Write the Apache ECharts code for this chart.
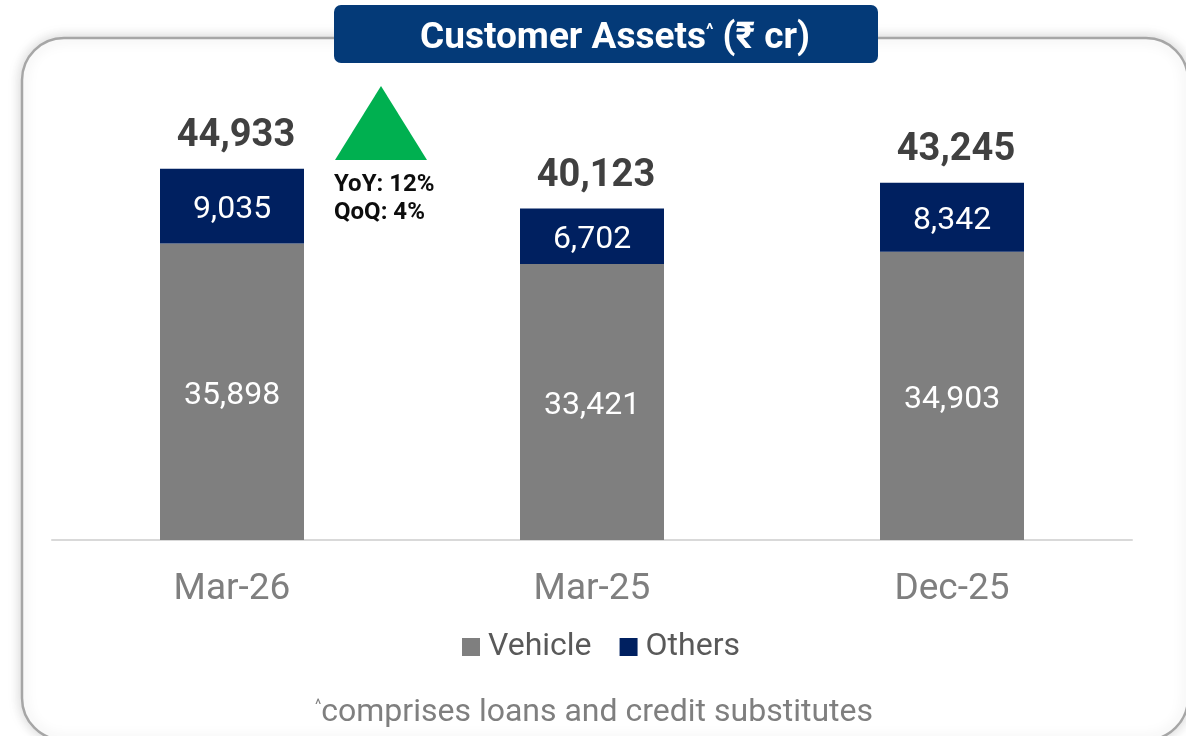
<!DOCTYPE html>
<html>
<head>
<meta charset="utf-8">
<script src="https://cdn.jsdelivr.net/npm/echarts@6/dist/echarts.min.js"></script>
<style>
  html, body { margin: 0; padding: 0; background: #fff; }
  #main { width: 1186px; height: 736px; }
</style>
</head>
<body>
<div id="main"></div>
<script>
  // data
  var categories = ['Mar-26', 'Mar-25', 'Dec-25'];
  var vehicle = [35898, 33421, 34903];
  var others = [9035, 6702, 8342];
  var totals = [44933, 40123, 43245];
  var growthLines = ['YoY: 12%', 'QoQ: 4%'];

  var fmt = function (v) {
    return v.toLocaleString('en-US');
  };

  var chart = echarts.init(document.getElementById('main'));
  var font = 'Roboto, "Noto Sans", sans-serif';

  var option = {
    animation: false,
    textStyle: { fontFamily: font },
    grid: { left: 52, right: 54, top: 127, bottom: 196 },
    legend: {
      data: ['Vehicle', 'Others'],
      top: 631,
      left: 462,
      padding: 0,
      itemWidth: 18,
      itemHeight: 18,
      itemGap: 28,
      icon: 'rect',
      textStyle: { fontSize: 32, color: '#595959', fontFamily: font, padding: [0, 0, 0, 3] }
    },
    xAxis: {
      type: 'category',
      data: categories,
      axisLine: { lineStyle: { color: '#d9d9d9', width: 2 } },
      axisTick: { show: false },
      axisLabel: { fontSize: 37, color: '#7f7f7f', margin: 31, fontFamily: font }
    },
    yAxis: {
      type: 'value',
      min: 0,
      max: 50000,
      show: false,
      splitLine: { show: false }
    },
    series: [
      {
        name: 'Vehicle',
        type: 'bar',
        stack: 'assets',
        barWidth: 144,
        itemStyle: { color: '#7f7f7f' },
        label: {
          show: true,
          position: 'inside',
          offset: [0, 4],
          color: '#fff',
          fontSize: 32,
          fontFamily: font,
          formatter: function (p) { return fmt(p.value); }
        },
        data: vehicle
      },
      {
        name: 'Others',
        type: 'bar',
        stack: 'assets',
        barWidth: 144,
        itemStyle: { color: '#002060' },
        label: {
          show: true,
          position: 'inside',
          offset: [0, 4],
          color: '#fff',
          fontSize: 32,
          fontFamily: font,
          formatter: function (p) { return fmt(p.value); }
        },
        data: others
      },
      {
        name: 'Total',
        type: 'line',
        symbol: 'circle',
        symbolSize: 1,
        itemStyle: { color: 'rgba(0,0,0,0)' },
        lineStyle: { width: 0, color: 'rgba(0,0,0,0)' },
        silent: true,
        label: {
          show: true,
          position: 'top',
          distance: 13,
          offset: [4, 0],
          color: '#404040',
          fontSize: 38,
          fontWeight: 'bold',
          fontFamily: font,
          formatter: function (p) { return fmt(p.value); }
        },
        data: totals,
        z: 5
      }
    ],
    graphic: [
      {
        type: 'rect',
        z: -10,
        shape: { x: 22, y: 38, width: 1166, height: 702, r: 42 },
        style: {
          fill: '#fff',
          stroke: '#a6a6a6',
          lineWidth: 2.5,
          shadowBlur: 14,
          shadowColor: 'rgba(0,0,0,0.18)'
        }
      },
      {
        type: 'rect',
        z: 10,
        shape: { x: 334, y: 5, width: 544, height: 58, r: 7 },
        style: { fill: '#043a78' }
      },
      {
        type: 'text',
        z: 11,
        x: 615,
        y: 39,
        style: {
          text: '{t|Customer Assets}{s|^}{t| (₹ cr)}',
          align: 'center',
          verticalAlign: 'middle',
          rich: {
            t: { fontSize: 37, fontWeight: 'bold', fill: '#fff', fontFamily: font },
            s: { fontSize: 17, fontWeight: 'bold', fill: '#fff', fontFamily: font, padding: [0, 0, 16, 0] }
          }
        }
      },
      {
        type: 'polygon',
        z: 10,
        shape: { points: [[335, 160], [427, 160], [381, 86]] },
        style: { fill: '#00b050' }
      },
      {
        type: 'text',
        z: 10,
        left: 334,
        top: 171,
        style: {
          text: growthLines.join('\n'),
          fontSize: 24,
          lineHeight: 28,
          fontWeight: 'bold',
          fill: '#0d0d0d',
          fontFamily: font
        }
      },
      {
        type: 'text',
        z: 10,
        x: 594,
        y: 713,
        style: {
          text: '{s|^}{t|comprises loans and credit substitutes}',
          align: 'center',
          verticalAlign: 'middle',
          rich: {
            t: { fontSize: 32, fill: '#7f7f7f', fontFamily: font },
            s: { fontSize: 15, fill: '#7f7f7f', fontFamily: font, padding: [0, 0, 16, 0] }
          }
        }
      }
    ]
  };

  chart.setOption(option);
</script>
</body>
</html>
